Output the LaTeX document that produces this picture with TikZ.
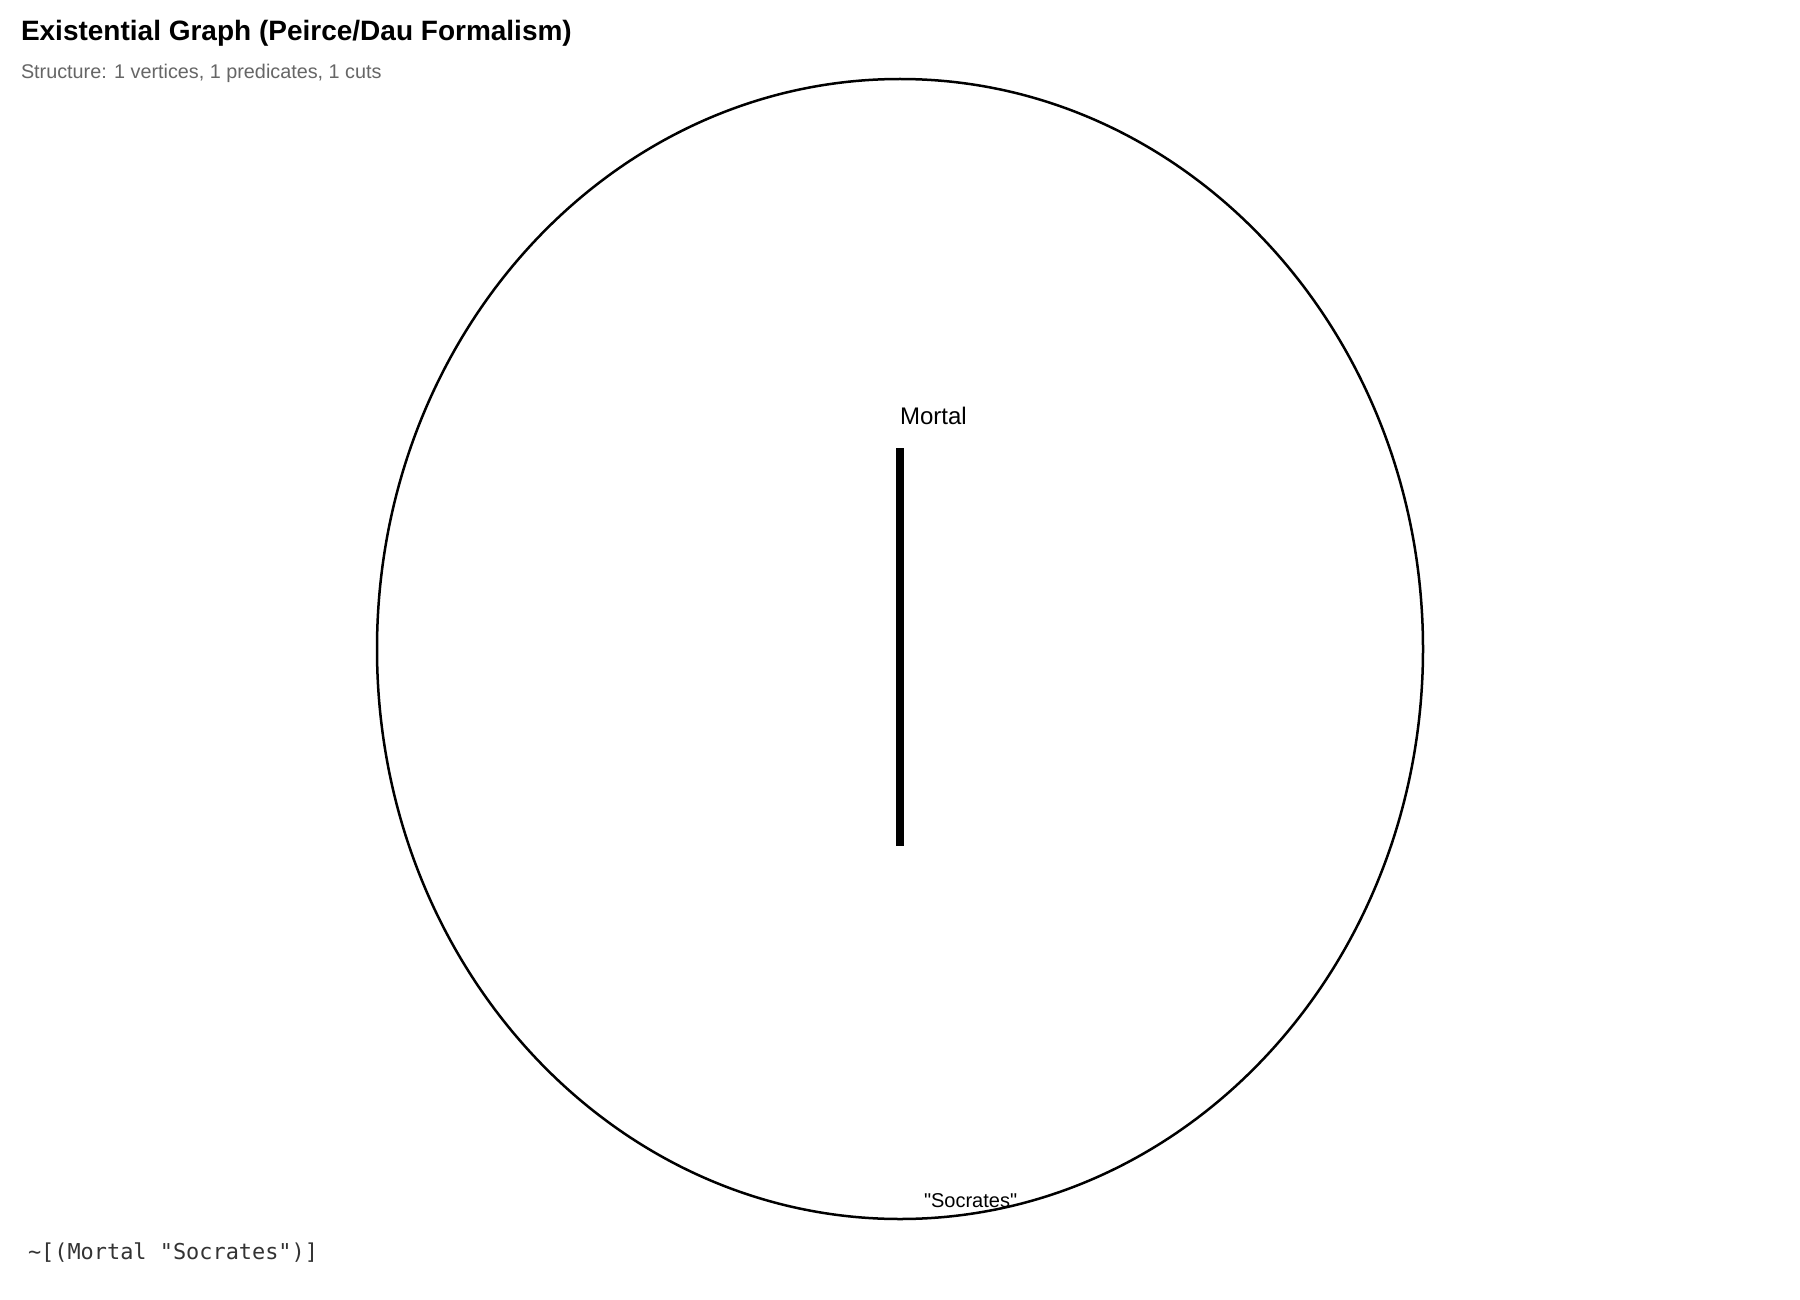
\documentclass[tikz,border=0pt]{standalone}
\usepackage{fontspec}
\setmainfont{Liberation Sans}
\setsansfont{Liberation Sans}
\newfontfamily\codefont{DejaVu Sans Mono}
\usetikzlibrary{shapes.geometric}
\definecolor{subgray}{HTML}{666666}
\definecolor{codegray}{HTML}{333333}
\tikzset{
  txt/.style={anchor=base west, inner sep=0pt, outer sep=0pt},
  cutstyle/.style={draw=black, line width=2.5pt, ellipse, inner sep=0pt},
  ligature/.style={line width=8pt, draw=black},
}
\begin{document}
\begin{tikzpicture}[x=1pt, y=-1pt]
\useasboundingbox[fill=white] (0,0) rectangle (1800,1300);
\node[txt, font=\fontsize{28}{32}\selectfont\bfseries] (title) at (21,41) {Existential Graph (Peirce/Dau Formalism)};
\node[txt, font=\fontsize{19.8}{24}\selectfont, text=subgray] (sub) at (21,79) {Structure: 1 vertices, 1 predicates, 1 cuts};
\node[cutstyle, minimum width=1046pt, minimum height=1140pt] (cut) at (900,649) {};
\coordinate (vtop) at (900,448);
\coordinate (vbot) at (900,846);
\draw[ligature] (vtop) -- (vbot);
\node[txt, font=\fontsize{24}{28}\selectfont] (mortal) at (900,424) {Mortal};
\node[txt, font=\fontsize{20}{24}\selectfont] (socr) at (924,1207) {\textquotedbl Socrates\textquotedbl};
\node[txt, font=\codefont\fontsize{21.9}{26}\selectfont, text=codegray] (formula) at (28,1259) {\string~[(Mortal \textquotedbl Socrates\textquotedbl)]};
\end{tikzpicture}
\end{document}
